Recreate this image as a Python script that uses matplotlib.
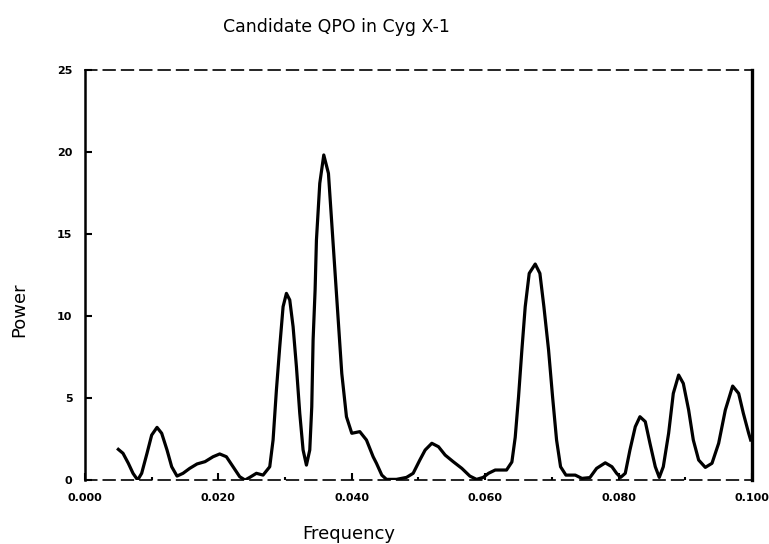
import numpy as np
import matplotlib.pyplot as plt

# frequency / power
freq = [0.0050, 0.0057, 0.0065, 0.0072, 0.0079, 0.0085, 0.0093, 0.0100, 0.0108, 0.0115,
        0.0123, 0.0130, 0.0138, 0.0147, 0.0157, 0.0168, 0.0180, 0.0192, 0.0202, 0.0212,
        0.0222, 0.0232, 0.0240, 0.0247, 0.0257, 0.0267, 0.0277, 0.0282, 0.0287, 0.0292,
        0.0297, 0.0302, 0.0307, 0.0312, 0.0317, 0.0322, 0.0327, 0.0332, 0.0337, 0.0340,
        0.0342, 0.0345, 0.0347, 0.0352, 0.0358, 0.0365, 0.0370, 0.0375, 0.0380, 0.0385,
        0.0392, 0.0400, 0.0412, 0.0422, 0.0432, 0.0437, 0.0445, 0.0452, 0.0467, 0.0482,
        0.0492, 0.0502, 0.0510, 0.0520, 0.0530, 0.0540, 0.0552, 0.0565, 0.0577, 0.0587,
        0.0597, 0.0605, 0.0615, 0.0625, 0.0632, 0.0640, 0.0645, 0.0650, 0.0655, 0.0660,
        0.0666, 0.0675, 0.0682, 0.0688, 0.0695, 0.0701, 0.0707, 0.0713, 0.0721, 0.0735,
        0.0745, 0.0757, 0.0767, 0.0780, 0.0790, 0.0797, 0.0803, 0.0810, 0.0817, 0.0825,
        0.0832, 0.0840, 0.0847, 0.0855, 0.0861, 0.0867, 0.0875, 0.0882, 0.0890, 0.0897,
        0.0905, 0.0912, 0.0920, 0.0930, 0.0940, 0.0950, 0.0960, 0.0971, 0.0980, 0.0987,
        0.0995, 0.0998]
power = [1.87, 1.63, 1.02, 0.41, 0.00, 0.41, 1.63, 2.74, 3.21, 2.85,
         1.83, 0.81, 0.24, 0.41, 0.71, 0.98, 1.12, 1.42, 1.59, 1.42,
         0.81, 0.20, 0.00, 0.16, 0.41, 0.30, 0.81, 2.44, 5.49, 8.13,
         10.57, 11.38, 10.98, 9.35, 6.91, 4.07, 1.83, 0.91, 1.83, 4.47,
         8.54, 11.59, 14.63, 18.09, 19.82, 18.70, 15.65, 12.60, 9.55, 6.50,
         3.86, 2.85, 2.95, 2.44, 1.42, 1.02, 0.30, 0.04, 0.04, 0.16,
         0.41, 1.22, 1.83, 2.24, 2.03, 1.52, 1.12, 0.71, 0.24, 0.04,
         0.16, 0.41, 0.61, 0.61, 0.61, 1.10, 2.60, 5.08, 7.93, 10.57,
         12.60, 13.17, 12.60, 10.57, 7.93, 5.08, 2.44, 0.81, 0.30, 0.30,
         0.10, 0.15, 0.71, 1.05, 0.81, 0.41, 0.16, 0.41, 1.83, 3.25,
         3.86, 3.56, 2.24, 0.81, 0.16, 0.81, 2.85, 5.28, 6.40, 5.89,
         4.27, 2.44, 1.22, 0.77, 1.02, 2.24, 4.27, 5.73, 5.28, 4.07,
         2.85, 2.44]

xticks = [0.0, 0.02, 0.04, 0.06, 0.08, 0.10]
xlabels = ["0.000", "0.020", "0.040", "0.060", "0.080", "0.100"]
yticks = [0, 5, 10, 15, 20, 25]

fig = plt.figure(figsize=(7.69, 5.44), dpi=100)
ax = fig.add_axes([0.1105, 0.1176, 0.8674, 0.7537])

ax.plot(freq, power, color='black', lw=2.3, solid_joinstyle='round')

ax.set_xlim(0, 0.1)
ax.set_ylim(0, 25)

# box: solid sides, dashed top/bottom
ax.spines['left'].set_linewidth(1.8)
ax.spines['right'].set_linewidth(2.4)
for s in ['top', 'bottom']:
    ax.spines[s].set_linewidth(1.2)
    ax.spines[s].set_linestyle((0, (7, 4)))

ax.set_xticks(xticks)
ax.set_xticklabels(xlabels)
ax.set_xticks(np.arange(0.01, 0.1, 0.02), minor=True)
ax.set_yticks(yticks)
ax.tick_params(axis='both', which='major', direction='in', length=5, width=1.5,
               labelsize=8, pad=9)
ax.tick_params(axis='x', which='minor', direction='in', length=2, width=1.5)
ax.tick_params(top=False, right=False)
for lab in ax.get_xticklabels() + ax.get_yticklabels():
    lab.set_fontweight('bold')

fig.text(0.438, 0.950, "Candidate QPO in Cyg X-1", ha='center', va='center', fontsize=12.5)
fig.text(0.025, 0.43, "Power", rotation=90, ha='center', va='center', fontsize=13)
fig.text(0.453, 0.018, "Frequency", ha='center', va='center', fontsize=13)

plt.savefig("out.png", dpi=100)
